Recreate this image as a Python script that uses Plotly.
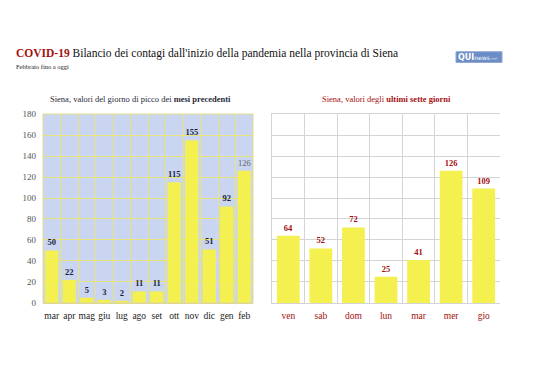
import plotly.graph_objects as go

W, H = 538, 380

months = ["mar", "apr", "mag", "giu", "lug", "ago", "set", "ott", "nov", "dic", "gen", "feb"]
month_peaks = [50, 22, 5, 3, 2, 11, 11, 115, 155, 51, 92, 126]

days = ["ven", "sab", "dom", "lun", "mar", "mer", "gio"]
day_values = [64, 52, 72, 25, 41, 126, 109]

y_ticks = [0, 20, 40, 60, 80, 100, 120, 140, 160, 180]

SERIF = "Liberation Serif, Times New Roman, serif"
RED = "#a50f0f"
YELLOW = "#f4f050"

def px_x(p):
    return p / W

def px_y(p):
    return 1 - p / H

fig = go.Figure()

left_labels = ["<b>%d</b>" % v for v in month_peaks]
left_colors = ["#1b1f3b"] * len(month_peaks)
left_labels[-1] = "%d" % month_peaks[-1]
left_colors[-1] = "#666666"

fig.add_trace(go.Bar(
    x=list(range(len(months))), y=month_peaks,
    text=left_labels, textposition="outside",
    textfont=dict(family=SERIF, size=8.5, color=left_colors),
    marker=dict(color=YELLOW, line=dict(width=0)),
    width=0.76, cliponaxis=False, xaxis="x", yaxis="y",
    hoverinfo="skip",
))

fig.add_trace(go.Bar(
    x=list(range(len(days))), y=day_values,
    text=["<b>%d</b>" % v for v in day_values], textposition="outside",
    textfont=dict(family=SERIF, size=8.5, color=RED),
    marker=dict(color=YELLOW, line=dict(width=0)),
    width=0.7, cliponaxis=False, xaxis="x2", yaxis="y2",
    hoverinfo="skip",
))

ydom = [px_y(306), px_y(112)]

fig.update_layout(
    width=W, height=H,
    margin=dict(l=0, r=0, t=0, b=0),
    paper_bgcolor="white",
    plot_bgcolor="white",
    showlegend=False,
    font=dict(family=SERIF, color="#222"),
    xaxis=dict(
        domain=[px_x(43), px_x(253)], range=[-0.5, len(months) - 0.5],
        tickmode="array", tickvals=list(range(len(months))), ticktext=months,
        showgrid=False, zeroline=False,
        minor=dict(tick0=0.5, dtick=1, showgrid=True, gridcolor="#e9e47a", gridwidth=1),
        showline=True, linecolor="#d9d49a", linewidth=1,
        tickfont=dict(family=SERIF, size=9.5, color="#222"), ticks="",
        ticklabelstandoff=4,
        fixedrange=True,
    ),
    yaxis=dict(
        domain=ydom, range=[0, 180],
        tickmode="array", tickvals=y_ticks,
        showgrid=True, gridcolor="#e9e47a", gridwidth=1, zeroline=False,
        tickfont=dict(family=SERIF, size=9, color="#555"), ticks="",
        ticklabelstandoff=6,
        fixedrange=True,
    ),
    xaxis2=dict(
        domain=[px_x(272), px_x(500)], range=[-0.5, len(days) - 0.5], anchor="y2",
        tickmode="array", tickvals=list(range(len(days))), ticktext=days,
        showgrid=False, zeroline=False,
        minor=dict(tick0=0.5, dtick=1, showgrid=True, gridcolor="#d4d4d4", gridwidth=1),
        showline=True, linecolor="#d4d4d4", linewidth=1, mirror=True,
        tickfont=dict(family=SERIF, size=9.5, color=RED), ticks="",
        ticklabelstandoff=4,
        fixedrange=True,
    ),
    yaxis2=dict(
        domain=ydom, range=[0, 180], anchor="x2",
        tickmode="array", tickvals=y_ticks, showticklabels=False,
        showgrid=True, gridcolor="#d4d4d4", gridwidth=1, zeroline=False,
        showline=True, linecolor="#d4d4d4", linewidth=1,
        fixedrange=True,
    ),
    bargap=0.2,
)

# light-blue plot background for the left panel
fig.add_shape(type="rect", xref="x domain", yref="y domain", x0=0, x1=1, y0=0, y1=1,
              fillcolor="#c9d5f1", line=dict(width=0), layer="below")
fig.add_shape(type="rect", xref="x domain", yref="y domain", x0=0, x1=1, y0=0, y1=1,
              fillcolor="rgba(0,0,0,0)", line=dict(width=1, color="#e2dd8c"), layer="above")

annotations = [
    dict(x=px_x(14), y=px_y(50), xref="paper", yref="paper", xanchor="left", yanchor="middle",
         text="<b><span style='color:%s'>COVID-19</span></b> Bilancio dei contagi dall'inizio della pandemia nella provincia di Siena" % RED,
         showarrow=False, font=dict(family=SERIF, size=11.5, color="#111")),
    dict(x=px_x(14), y=px_y(63), xref="paper", yref="paper", xanchor="left", yanchor="middle",
         text="Febbraio fino a oggi", showarrow=False,
         font=dict(family=SERIF, size=6.5, color="#222")),
    dict(x=px_x(140), y=px_y(97), xref="paper", yref="paper", xanchor="center", yanchor="middle",
         text="Siena, valori del giorno di picco dei <b>mesi precedenti</b>", showarrow=False,
         font=dict(family=SERIF, size=8.5, color="#2a2a3a")),
    dict(x=px_x(386), y=px_y(97), xref="paper", yref="paper", xanchor="center", yanchor="middle",
         text="Siena, valori degli <b>ultimi sette giorni</b>", showarrow=False,
         font=dict(family=SERIF, size=8.5, color=RED)),
    dict(x=px_x(478), y=px_y(53.5), xref="paper", yref="paper", xanchor="center", yanchor="middle",
         text="<b>QUI</b><span style='font-size:6px'>news</span><span style='font-size:4px;color:#c9d6ee'>.net</span>",
         showarrow=False, font=dict(family="DejaVu Sans", size=8, color="white")),
]
fig.update_layout(annotations=annotations)

fig.add_shape(type="rect", xref="paper", yref="paper",
              x0=px_x(456), x1=px_x(502), y0=px_y(59), y1=px_y(48),
              fillcolor="#6b8cc4", line=dict(width=1, color="#8fa6d2"), layer="below")

fig.write_html("out.html", config={"displayModeBar": False},
               post_script="document.body.style.margin='0px';document.body.style.overflow='hidden';")
